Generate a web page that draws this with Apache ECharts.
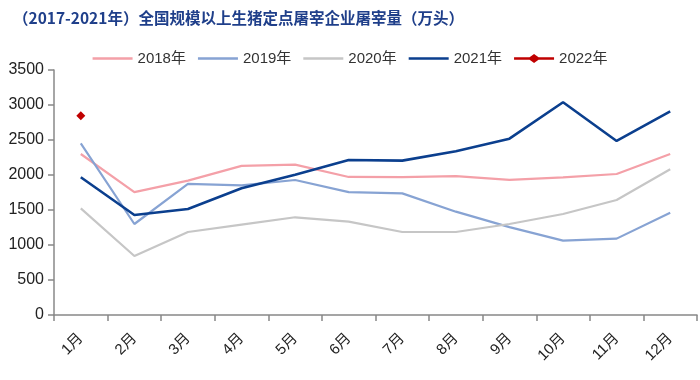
<!DOCTYPE html>
<html><head><meta charset="utf-8">
<script src="https://cdn.jsdelivr.net/npm/echarts@6/dist/echarts.min.js"></script>
<style>html,body{margin:0;padding:0;background:#fff}#c{width:700px;height:380px}</style>
</head><body><div id="c"></div>
<script>
const months = ['1月','2月','3月','4月','5月','6月','7月','8月','9月','10月','11月','12月'];
const s2018 = [2300,1755,1920,2130,2148,1972,1970,1985,1930,1965,2014,2300];
const s2019 = [2453,1300,1872,1853,1929,1755,1738,1476,1255,1062,1091,1462];
const s2020 = [1524,843,1186,1290,1396,1334,1186,1186,1300,1443,1643,2082];
const s2021 = [1967,1429,1515,1810,2005,2215,2205,2339,2519,3039,2486,2910];
const s2022 = [2848,null,null,null,null,null,null,null,null,null,null,null];
const names = ['2018年','2019年','2020年','2021年','2022年'];
const yTicks = {min:0, max:3500, interval:500};

const chart = echarts.init(document.getElementById('c'));
const font = 'Liberation Sans, Arial, Noto Sans CJK SC';
const lineIcon = 'path://M0,3.2 L40,3.2 L40,5.8 L0,5.8 Z M0,0 L0.01,0 L0.01,9 L0,9 Z';
const diamondIcon = 'path://M0,3.2 L15.5,3.2 L20,0 L24.5,3.2 L40,3.2 L40,5.8 L24.5,5.8 L20,9 L15.5,5.8 L0,5.8 Z';
function line(name, data, color, width){
  return {name, type:'line', data, symbol:'none', lineStyle:{color, width}, itemStyle:{color}, z:2};
}
chart.setOption({
  animation:false,
  title:{text:'（2017-2021年）全国规模以上生猪定点屠宰企业屠宰量（万头）', left:8, top:5,
    textStyle:{color:'#1F3F8A', fontSize:15.5, fontWeight:'bold', fontFamily:'Noto Sans CJK SC'}},
  legend:{top:46, left:'center', itemWidth:40, itemHeight:9, itemGap:12, symbolKeepAspect:false,
    textStyle:{color:'#333', fontSize:15, fontFamily:font},
    data:names.map((n,i)=>({name:n, icon: i===4 ? diamondIcon : lineIcon}))},
  grid:{left:54, right:3, top:70, bottom:65},
  xAxis:{type:'category', data:months, boundaryGap:true,
    axisLine:{lineStyle:{color:'#888', width:1.5}},
    axisTick:{show:true, length:6, lineStyle:{color:'#888', width:1.5}},
    axisLabel:{rotate:45, color:'#222', fontSize:15, fontFamily:font, margin:21}},
  yAxis:{type:'value', min:yTicks.min, max:yTicks.max, interval:yTicks.interval,
    splitLine:{show:false},
    axisLine:{show:true, lineStyle:{color:'#888', width:1.5}},
    axisTick:{show:true, length:6, lineStyle:{color:'#888', width:1.5}},
    axisLabel:{color:'#222', fontSize:16, fontFamily:font, margin:10, formatter:v=>String(v)}},
  series:[
    line(names[0], s2018, '#F4A0A8', 2.2),
    line(names[1], s2019, '#87A3D3', 2.2),
    line(names[2], s2020, '#C6C6C6', 2.2),
    line(names[3], s2021, '#0B3F8E', 2.6),
    {name:names[4], type:'line', data:s2022, symbol:'diamond', symbolSize:9, showSymbol:true,
     lineStyle:{color:'#C00000', width:2.2}, itemStyle:{color:'#C00000'}, z:3}
  ]
});
</script></body></html>
